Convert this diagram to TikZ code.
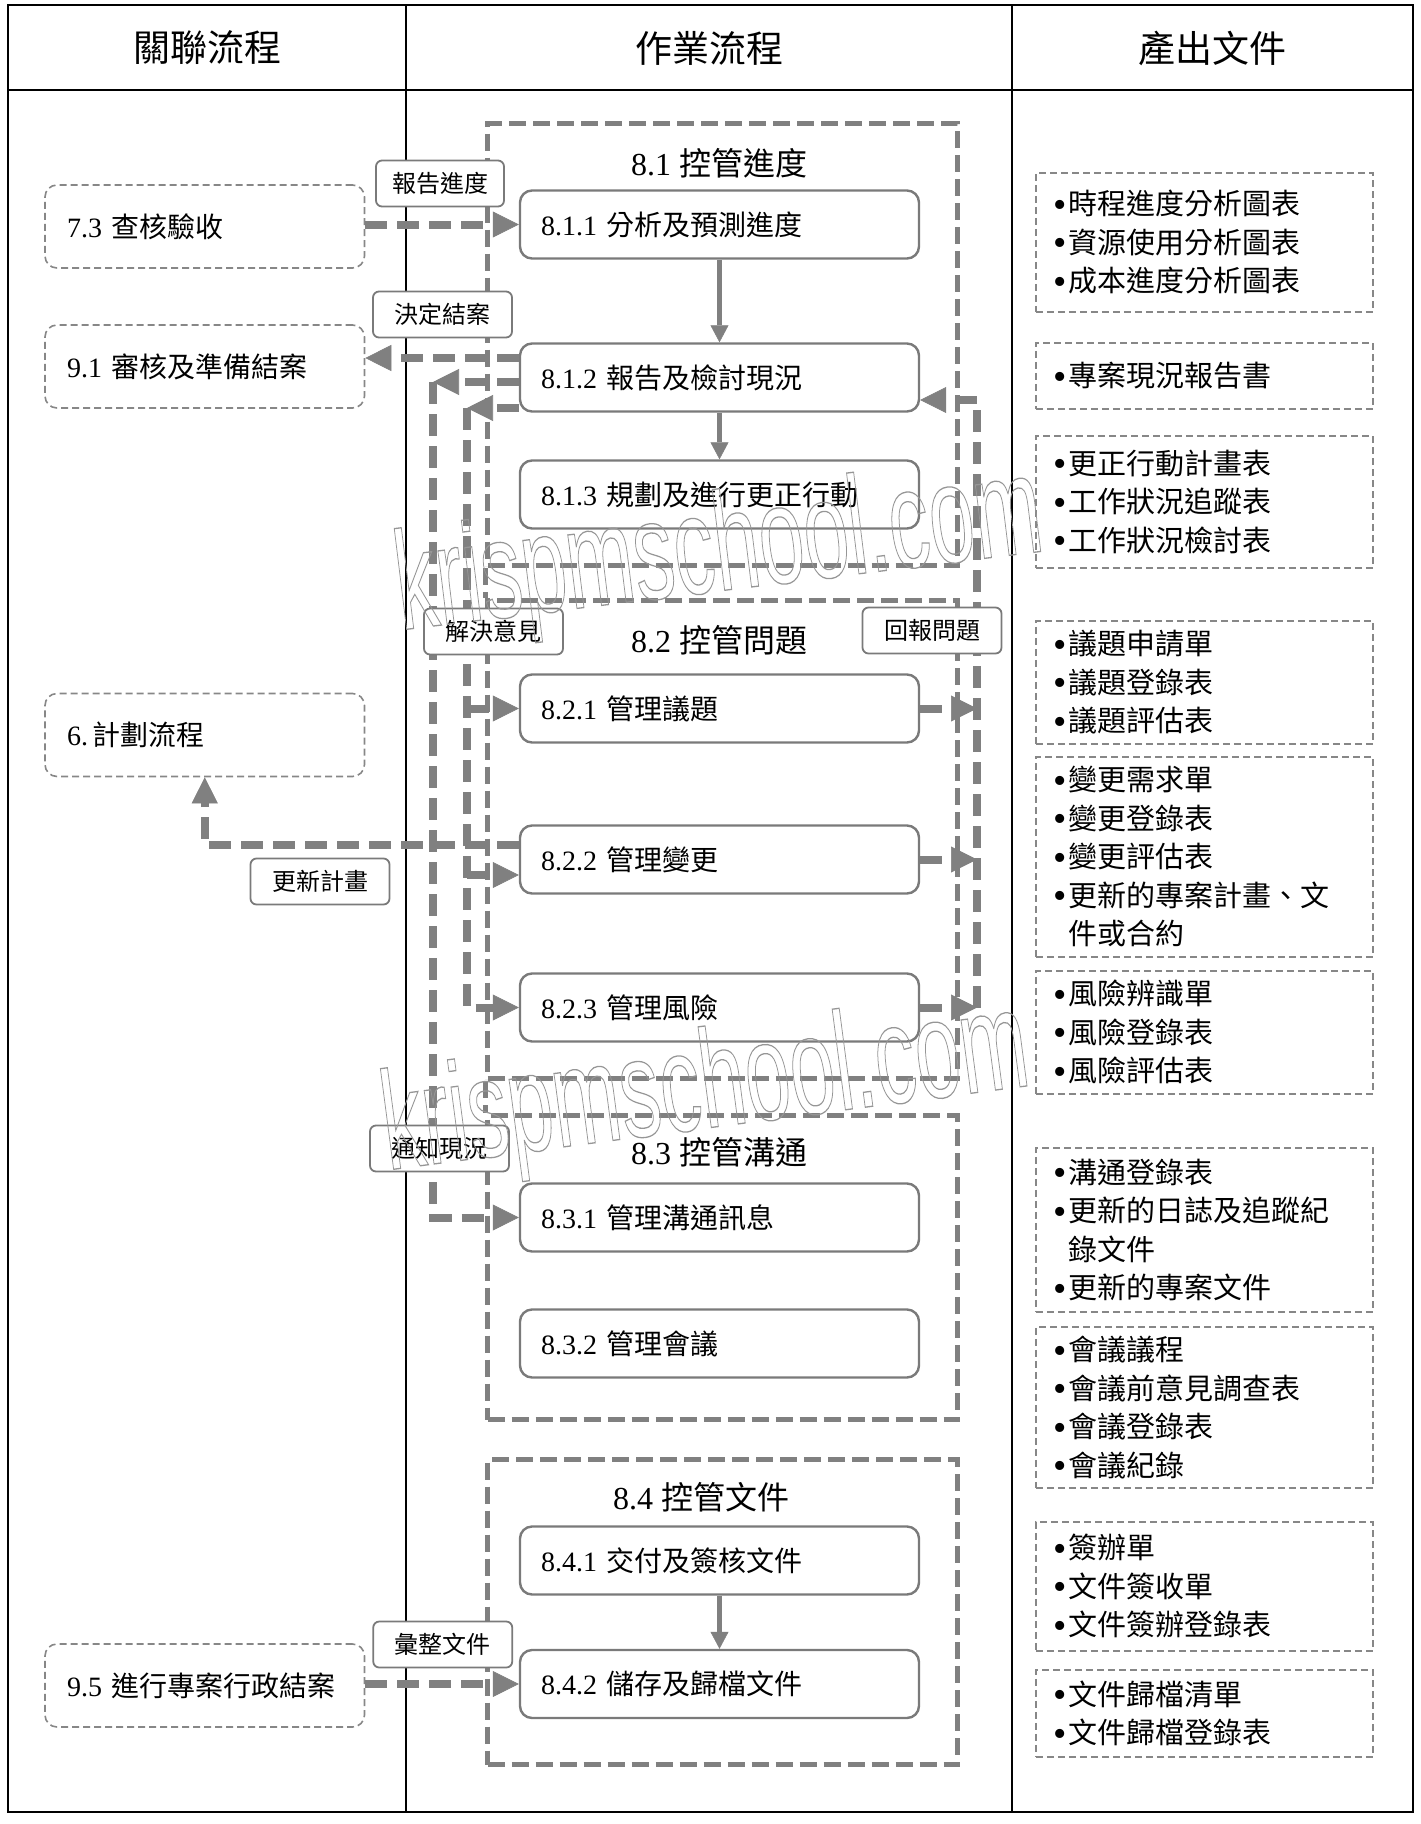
\documentclass[tikz,border=0pt]{standalone}
\usepackage{fontspec}
\usepackage{graphicx}
\setmainfont{Liberation Serif}
\newfontfamily\cj{Noto Sans CJK TC}
\newfontfamily\wmfont{Liberation Sans}
\usetikzlibrary{arrows.meta,calc}
\newcommand{\C}[1]{{\cj #1}}
\newcommand{\bul}{\raisebox{-2.5pt}{\fontsize{38pt}{0pt}\selectfont\textbullet}}
\newcommand{\bl}[1]{\bul\hspace{1.5pt}\C{#1}}
\newcommand{\bi}{\phantom{\bul\hspace{1.5pt}}}
\newcommand{\wmtext}{\scalebox{0.58}[1]{\special{pdf:literal direct 1 Tr 1.3 w}krispmschool.com\special{pdf:literal direct 0 Tr}}}
\definecolor{cg}{RGB}{128,128,128}
\definecolor{bg}{RGB}{122,122,122}
\definecolor{rg}{RGB}{135,135,135}
\definecolor{wmg}{RGB}{150,150,150}
\tikzset{
  bigtip/.tip={Triangle[length=26pt,width=26pt,line width=0.6pt]},
  smalltip/.tip={Triangle[length=17pt,width=18pt,line width=0.5pt]},
  hdr/.style={inner sep=0pt, font=\cj\fontsize{37pt}{40pt}\selectfont},
  rel/.style={draw=rg, line width=1.6pt, dash pattern=on 7pt off 4pt, rounded corners=12pt,
    minimum height=83pt, inner xsep=22pt, text width=275.5pt, align=left,
    font=\fontsize{28pt}{34pt}\selectfont},
  proc/.style={draw=bg, line width=2.4pt, rounded corners=12pt, fill=white,
    minimum height=68pt, inner xsep=21pt, text width=357pt, align=left,
    font=\fontsize{28pt}{34pt}\selectfont},
  grp/.style={draw=cg, line width=5pt, dash pattern=on 17pt off 7pt, inner sep=0pt, anchor=north west},
  gtitle/.style={inner sep=0pt, font=\fontsize{32pt}{36pt}\selectfont},
  lbl/.style={draw=bg, line width=1.8pt, rounded corners=6pt, fill=white, inner sep=0pt,
    minimum width=139pt, minimum height=46pt, font=\cj\fontsize{24pt}{28pt}\selectfont},
  doc/.style={draw=rg, line width=1.6pt, dash pattern=on 7pt off 4pt, anchor=north west,
    minimum width=337pt, inner xsep=18pt, text width=301pt, align=left,
    font=\fontsize{29pt}{38.5pt}\selectfont},
  conn/.style={draw=cg, line width=8pt, dash pattern=on 22pt off 10pt, -bigtip},
  flow/.style={draw=cg, line width=4.5pt, -smalltip},
  wm/.style={inner sep=0pt, text=wmg, font=\wmfont\fontsize{140pt}{140pt}\selectfont}
}
\begin{document}
\begin{tikzpicture}[x=1pt,y=-1pt]
\useasboundingbox (0,0) rectangle (1421,1824);
% table frame
\draw[line width=2.5pt] (8,5) rectangle (1413,1812);
\draw[line width=1.5pt] (8,90) -- (1413,90);
\draw[line width=1.2pt] (406,5) -- (406,1812);
\draw[line width=1.2pt] (1012,5) -- (1012,1812);
\node[hdr] (h1) at (207,48) {關聯流程};
\node[hdr] (h2) at (709,48) {作業流程};
\node[hdr] (h3) at (1212,48) {產出文件};

% related processes
\node[rel] (r73) at (204.75,226.5) {7.3 \C{查核驗收}};
\node[rel] (r91) at (204.75,366.5) {9.1 \C{審核及準備結案}};
\node[rel] (r6) at (204.75,735) {6.\,\C{計劃流程}};
\node[rel] (r95) at (204.75,1685.5) {9.5 \C{進行專案行政結案}};

% groups
\node[grp, minimum width=470pt, minimum height=442pt] (g1) at (485,121) {};
\node[grp, minimum width=470pt, minimum height=478pt] (g2) at (485,598) {};
\node[grp, minimum width=470pt, minimum height=304pt] (g3) at (485,1113) {};
\node[grp, minimum width=470pt, minimum height=305pt] (g4) at (485,1457) {};
\draw[grp] (g1.south west) -- (g2.north west);
\draw[grp] (g2.south west) -- (g3.north west);
\node[gtitle] (t1) at (719,163) {8.1 \C{控管進度}};
\node[gtitle] (t2) at (719,640) {8.2 \C{控管問題}};
\node[gtitle] (t3) at (719,1152) {8.3 \C{控管溝通}};
\node[gtitle] (t4) at (701,1497) {8.4 \C{控管文件}};

% process boxes
\node[proc] (p811) at (719.5,224.5) {8.1.1 \C{分析及預測進度}};
\node[proc] (p812) at (719.5,377.5) {8.1.2 \C{報告及檢討現況}};
\node[proc] (p813) at (719.5,494.5) {8.1.3 \C{規劃及進行更正行動}};
\node[proc] (p821) at (719.5,708.5) {8.2.1 \C{管理議題}};
\node[proc] (p822) at (719.5,859.5) {8.2.2 \C{管理變更}};
\node[proc] (p823) at (719.5,1007.5) {8.2.3 \C{管理風險}};
\node[proc] (p831) at (719.5,1217.5) {8.3.1 \C{管理溝通訊息}};
\node[proc] (p832) at (719.5,1343.5) {8.3.2 \C{管理會議}};
\node[proc] (p841) at (719.5,1560.5) {8.4.1 \C{交付及簽核文件}};
\node[proc] (p842) at (719.5,1684) {8.4.2 \C{儲存及歸檔文件}};

% flow arrows
\draw[flow] (p811.south) -- (p812.north);
\draw[flow] (p812.south) -- (p813.north);
\draw[flow] (p841.south) -- (p842.north);

% output documents
\node[doc, minimum height=139pt] (d1) at (1035,172) {\bl{時程進度分析圖表}\\\bl{資源使用分析圖表}\\\bl{成本進度分析圖表}};
\node[doc, minimum height=66pt] (d2) at (1035,342) {\bl{專案現況報告書}};
\node[doc, minimum height=132pt] (d3) at (1035,435) {\bl{更正行動計畫表}\\\bl{工作狀況追蹤表}\\\bl{工作狀況檢討表}};
\node[doc, minimum height=123pt] (d4) at (1035,620) {\bl{議題申請單}\\\bl{議題登錄表}\\\bl{議題評估表}};
\node[doc, minimum height=200pt] (d5) at (1035,756) {\bl{變更需求單}\\\bl{變更登錄表}\\\bl{變更評估表}\\\bl{更新的專案計畫、文}\\\bi\C{件或合約}};
\node[doc, minimum height=123pt] (d6) at (1035,970) {\bl{風險辨識單}\\\bl{風險登錄表}\\\bl{風險評估表}};
\node[doc, minimum height=164pt] (d7) at (1035,1147) {\bl{溝通登錄表}\\\bl{更新的日誌及追蹤紀}\\\bi\C{錄文件}\\\bl{更新的專案文件}};
\node[doc, minimum height=161pt] (d8) at (1035,1326) {\bl{會議議程}\\\bl{會議前意見調查表}\\\bl{會議登錄表}\\\bl{會議紀錄}};
\node[doc, minimum height=129pt] (d9) at (1035,1521) {\bl{簽辦單}\\\bl{文件簽收單}\\\bl{文件簽辦登錄表}};
\node[doc, minimum height=87pt] (d10) at (1035,1669) {\bl{文件歸檔清單}\\\bl{文件歸檔登錄表}};

% connector junctions and end points
\coordinate (vN) at (433,382);
\coordinate (vL) at (467,408);
\coordinate (vR) at (977,400);
\coordinate (a91) at ($(p812.west)+(0,-19.5)$);
\coordinate (aN) at ($(p812.west)+(0,4.5)$);
\coordinate (aL) at ($(p812.west)+(0,30.5)$);
\coordinate (aR) at ($(p812.east)+(0,22.5)$);
\coordinate (a822) at ($(p822.west)+(0,15.5)$);
\coordinate (a6) at ($(p822.west)+(0,-14.5)$);

% connectors
\draw[conn] (p811.west -| r73.east) -- (p811.west);
\draw[conn] (a91) -- (a91 -| r91.east);
\draw[conn] (aN) -- (vN);
\draw[conn] (vN) -- (vN |- p831.west) -- (p831.west);
\draw[conn] (aL) -- (vL);
\draw[conn] (vL) -- (vL |- p823.west) -- (p823.west);
\draw[conn] (vL |- p821.west) -- (p821.west);
\draw[conn] (a822 -| vL) -- (a822);
\draw[conn] (p821.east) -- (p821.east -| vR);
\draw[conn] (p822.east) -- (p822.east -| vR);
\draw[conn] (p823.east) -- (p823.east -| vR);
\draw[conn] (p823.east -| vR) -- (vR) -- (aR);
\draw[conn] (a6) -| (r6.south);
\draw[conn] (p842.west -| r95.east) -- (p842.west);

% labels
\node[lbl, minimum width=128pt] (l1) at (440,183.5) {報告進度};
\node[lbl] (l2) at (442.5,314.5) {決定結案};
\node[lbl] (l3) at (493.5,631.5) {解決意見};
\node[lbl] (l4) at (932,630.5) {回報問題};
\node[lbl] (l5) at (320,881.5) {更新計畫};
\node[lbl] (l6) at (439.5,1148.5) {通知現況};
\node[lbl] (l7) at (442.75,1644.5) {彙整文件};

% watermarks
\node[wm, anchor=base west, rotate=7] (wm1) at (401,630) {\wmtext};
\node[wm, anchor=base west, rotate=7.5] (wm2) at (388,1170) {\wmtext};
\end{tikzpicture}
\end{document}
